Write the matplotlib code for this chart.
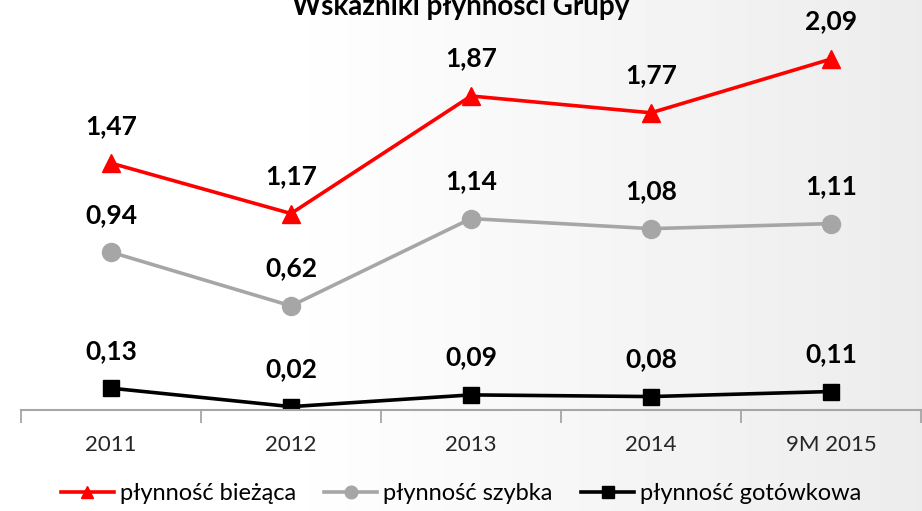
import numpy as np
import matplotlib.pyplot as plt

plt.rcParams['font.family'] = ['Lato', 'DejaVu Sans']

# data
categories = ['2011', '2012', '2013', '2014', '9M 2015']
biezaca = [1.47, 1.17, 1.87, 1.77, 2.09]
szybka = [0.94, 0.62, 1.14, 1.08, 1.11]
gotowkowa = [0.13, 0.02, 0.09, 0.08, 0.11]
labels = ['płynność bieżąca', 'płynność szybka', 'płynność gotówkowa']
title = 'Wskaźniki płynności Grupy'

fig = plt.figure(figsize=(9.22, 5.11), dpi=100)

# background gradient (white on the left, light gray on the right)
bg = fig.add_axes([0, 0, 1, 1], zorder=-10)
grad = np.linspace(0, 1, 256)
grad = np.clip((grad - 0.3) / 0.7, 0, 1)
vals = 1.0 - 0.075 * grad
bg.imshow(np.tile(vals, (10, 1)), cmap='gray', vmin=0, vmax=1, aspect='auto',
          extent=[0, 1, 0, 1])
bg.axis('off')

ax = fig.add_axes([21 / 922, 101 / 511, 900 / 922, 403 / 511])
ax.patch.set_alpha(0)
x = np.arange(len(categories))

series = [
    (biezaca, '#ff0000', '^', 13),
    (szybka, '#a6a6a6', 'o', 13),
    (gotowkowa, '#000000', 's', 12),
]
for (vals_, color, marker, ms), lab in zip(series, labels):
    ax.plot(x, vals_, color=color, lw=2.6, marker=marker, ms=ms,
            markeredgecolor=color, label=lab)
    for xi, v in zip(x, vals_):
        ax.annotate(f'{v:.2f}'.replace('.', ','), (xi, v), xytext=(0, 27),
                    textcoords='offset points', ha='center', va='center',
                    fontsize=19, fontweight='bold', color='#000000')

ax.set_xlim(-0.5, len(categories) - 0.5)
ax.set_ylim(0, 2.4)
ax.set_yticks([])
ax.set_xticks(x)
ax.set_xticklabels(categories, fontsize=16, color='#262626')
ax.set_xticks(np.arange(-0.5, len(categories)), minor=True)
ax.tick_params(axis='x', which='major', length=0, pad=18)
ax.tick_params(axis='x', which='minor', length=9, width=1.3, color='#a6a6a6')
for s in ['top', 'right', 'left']:
    ax.spines[s].set_visible(False)
ax.spines['bottom'].set_color('#a6a6a6')
ax.spines['bottom'].set_linewidth(1.5)

fig.legend(loc='center', bbox_to_anchor=(0.5, 1 - 494 / 511), ncol=3,
           frameon=False, fontsize=17, handlelength=2.25, handletextpad=0.25,
           columnspacing=1.2, markerscale=0.7)

fig.text(0.5, 1 - 15 / 511, title, ha='center', va='baseline',
         fontsize=20, fontweight='bold', color='#000000')

fig.savefig('out.png', dpi=100)
